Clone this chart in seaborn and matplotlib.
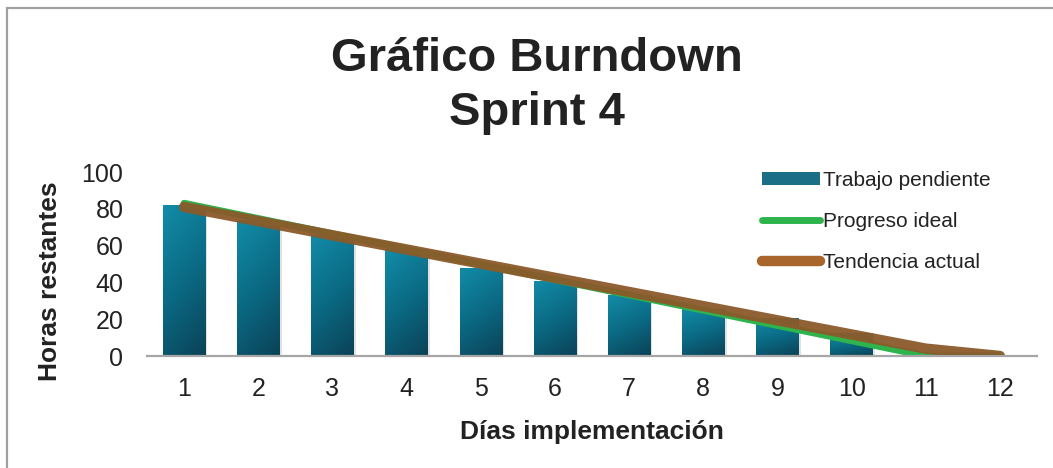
import numpy as np
import pandas as pd
import matplotlib
matplotlib.use('Agg')
import matplotlib.pyplot as plt
import seaborn as sns
from matplotlib.colors import LinearSegmentedColormap
from matplotlib.patches import Patch, Rectangle
from matplotlib.lines import Line2D

# Datos del sprint
dias = [1, 2, 3, 4, 5, 6, 7, 8, 9, 10, 11, 12]
trabajo_pendiente = [82, 74, 66, 58, 48, 41, 33, 25.5, 20.5, 12.5, 0, 0]
progreso_ideal = [83, 74.7, 66.4, 58.1, 49.8, 41.5, 33.2, 24.9, 16.6, 8.3, 0, 0]
tendencia_actual = [81, 73.3, 65.6, 57.9, 50.2, 42.5, 34.8, 27.1, 19.4, 11.7, 4, 0]

df = pd.DataFrame({'dia': dias, 'pendiente': trabajo_pendiente,
                   'ideal': progreso_ideal, 'tendencia': tendencia_actual})

sns.set_theme(style='white')
plt.rcParams['font.family'] = ['Liberation Sans', 'DejaVu Sans']

fig = plt.figure(figsize=(10.53, 4.68), dpi=100)
ax = fig.add_axes([147 / 1053, 1 - 356 / 468, (1037 - 147) / 1053, (356 - 172) / 468])

sns.barplot(data=df, x='dia', y='pendiente', native_scale=True, width=0.57,
            color='#0e7c96', saturation=1, ax=ax, zorder=2)

# degradado en las barras (claro arriba, oscuro abajo)
cmap = LinearSegmentedColormap.from_list('azul', ['#128ca8', '#0b6a84', '#0a4257'])
gx, gy = np.meshgrid(np.linspace(0, 1, 40), np.linspace(0, 1, 80))
grad = 0.75 * gy + 0.25 * gx
for p in list(ax.patches):
    x0, y0 = p.get_x(), p.get_y()
    w, h = p.get_width(), p.get_height()
    if h <= 0:
        continue
    # sombra suave
    ax.add_patch(Rectangle((x0 + 0.03, y0), w, h - 0.3, facecolor='#cfcfcf',
                           edgecolor='none', alpha=0.6, zorder=1.5))
    p.set_facecolor('none')
    p.set_edgecolor('none')
    im = ax.imshow(grad, extent=(x0, x0 + w, y0, y0 + h), cmap=cmap,
                   aspect='auto', zorder=2, origin='upper')
    im.set_clip_path(p)

sns.lineplot(data=df, x='dia', y='ideal', color='#2eb34d', linewidth=5,
             ax=ax, zorder=3, solid_capstyle='round')
sns.lineplot(data=df, x='dia', y='tendencia', color='#8a5a2a', linewidth=7.5,
             ax=ax, zorder=4, solid_capstyle='round', alpha=0.95)

ax.set_xlim(0.5, 12.5)
ax.set_ylim(0, 100)
ax.set_xticks(dias)
ax.set_xticklabels([str(d) for d in dias])
ax.set_yticks([0, 20, 40, 60, 80, 100])
ax.tick_params(axis='both', length=0, labelsize=18, colors='#222222')
ax.tick_params(axis='x', pad=15)
ax.tick_params(axis='y', pad=17)
for s in ['left', 'top', 'right']:
    ax.spines[s].set_visible(False)
ax.spines['bottom'].set_color('#a6a6a6')
ax.spines['bottom'].set_linewidth(1.6)
ax.spines['bottom'].set_zorder(5)

ax.set_xlabel('Días implementación', fontsize=19, fontweight='bold', color='#222222', labelpad=14)
ax.set_ylabel('Horas restantes', fontsize=19, fontweight='bold', color='#222222')
ax.yaxis.set_label_coords((62 - 147) / 890, (356 - 281) / 184)

fig.text(537 / 1053, 1 - 86 / 468, 'Gráfico Burndown\nSprint 4', ha='center', va='center',
         fontsize=34, fontweight='bold', color='#222222', linespacing=1.32)

handles = [
    Patch(facecolor='#1a6f86', edgecolor='#1a1a1a', linewidth=0),
    Line2D([], [], color='#2eb34d', linewidth=5, solid_capstyle='round'),
    Line2D([], [], color='#a8652c', linewidth=7.5, solid_capstyle='round'),
]
fig.legend(handles, ['Trabajo pendiente', 'Progreso ideal', 'Tendencia actual'],
           loc='upper left', bbox_to_anchor=(762 / 1053, 1 - 171 / 468),
           frameon=False, fontsize=15, handlelength=2.8, handletextpad=0.15,
           labelspacing=1.05, borderpad=0, borderaxespad=0, labelcolor='#222222',
           handleheight=0.55)

# marco exterior
fig.patches.append(Rectangle((7 / 1053, -0.2), 1.2, 1 - 8 / 468 + 0.2,
                             transform=fig.transFigure, fill=False,
                             edgecolor='#a0a0a0', linewidth=1.6, zorder=0))

fig.savefig('out.png', dpi=100)
